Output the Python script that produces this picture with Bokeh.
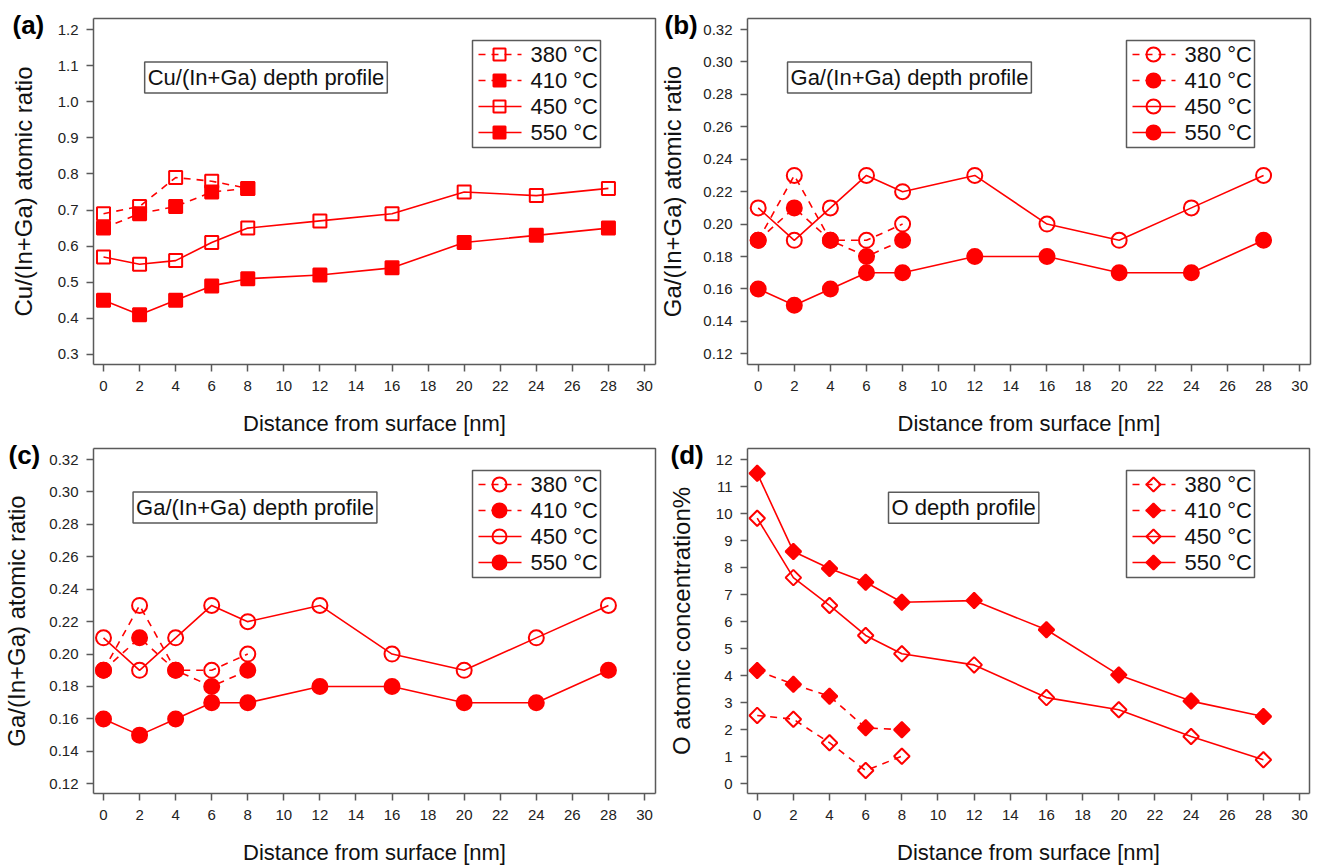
import numpy as np
from bokeh.plotting import figure
from bokeh.layouts import column, row
from bokeh.models import Range1d, FixedTicker, PrintfTickFormatter, Label
from bokeh.core.properties import value
from bokeh.embed import file_html
from bokeh.resources import INLINE

# ---------------- data ----------------
x_short = [0, 2, 4, 6, 8]
x_long = [0, 2, 4, 6, 8, 12, 16, 20, 24, 28]
series_labels = ["380 °C", "410 °C", "450 °C", "550 °C"]

cu_380 = [0.69, 0.71, 0.79, 0.78, 0.76]
cu_410 = [0.65, 0.69, 0.71, 0.75, 0.76]
cu_450 = [0.57, 0.55, 0.56, 0.61, 0.65, 0.67, 0.69, 0.75, 0.74, 0.76]
cu_550 = [0.45, 0.41, 0.45, 0.49, 0.51, 0.52, 0.54, 0.61, 0.63, 0.65]

ga_380 = [0.19, 0.23, 0.19, 0.19, 0.20]
ga_410 = [0.19, 0.21, 0.19, 0.18, 0.19]
ga_450 = [0.21, 0.19, 0.21, 0.23, 0.22, 0.23, 0.20, 0.19, 0.21, 0.23]
ga_550 = [0.16, 0.15, 0.16, 0.17, 0.17, 0.18, 0.18, 0.17, 0.17, 0.19]

o_380 = [2.53, 2.39, 1.52, 0.49, 1.02]
o_410 = [4.19, 3.68, 3.24, 2.07, 2.00]
o_450 = [9.83, 7.63, 6.60, 5.49, 4.81, 4.40, 3.19, 2.74, 1.75, 0.89]
o_550 = [11.49, 8.60, 7.97, 7.46, 6.72, 6.78, 5.70, 4.03, 3.06, 2.49]

x_ticks = [0, 2, 4, 6, 8, 10, 12, 14, 16, 18, 20, 22, 24, 26, 28, 30]
cu_ticks = [0.3, 0.4, 0.5, 0.6, 0.7, 0.8, 0.9, 1.0, 1.1, 1.2]
ga_ticks = [0.12, 0.14, 0.16, 0.18, 0.20, 0.22, 0.24, 0.26, 0.28, 0.30, 0.32]
o_ticks = [0, 1, 2, 3, 4, 5, 6, 7, 8, 9, 10, 11, 12]

x_title = "Distance from surface [nm]"

# ---------------- style ----------------
RED = "#ff0000"
FRAME = "#5a5a5a"
FONT = "Liberation Sans"
FONT_VAL = value(FONT)
DASH = "7 6"


class Panel:
    """One sub-chart. box_px = plot box (left, top, right, bottom) in figure pixels,
    box_data = (x0, x1, y0, y1) data extent of that box."""

    def __init__(self, W, H, box_px, box_data, yticks, yfmt, ylabel, ystand):
        L, T, R, B = box_px
        x0, x1, y0, y1 = box_data
        self.L, self.T = L, T
        self.box_data = box_data
        self.sx = (R - L) / (x1 - x0)
        self.sy = (B - T) / (y1 - y0)
        self.xr0 = x0 - L / self.sx
        self.yr1 = y1 + T / self.sy
        xr1 = self.xr0 + W / self.sx
        yr0 = self.yr1 - H / self.sy
        p = figure(width=W, height=H, x_range=Range1d(self.xr0, xr1), y_range=Range1d(yr0, self.yr1),
                   output_backend="svg", toolbar_location=None,
                   min_border_left=0, min_border_right=0, min_border_top=0, min_border_bottom=0)
        p.xgrid.visible = False
        p.ygrid.visible = False
        p.outline_line_color = None
        for ax in (p.xaxis[0], p.yaxis[0]):
            ax.axis_line_color = FRAME
            ax.axis_line_width = 1.5
            ax.major_tick_line_color = FRAME
            ax.major_tick_line_width = 1.5
            ax.major_tick_out = 7
            ax.major_tick_in = 0
            ax.minor_tick_line_color = None
            ax.major_label_text_font = FONT
            ax.major_label_text_font_size = "15px"
            ax.major_label_text_color = "#222222"
            ax.axis_label_text_font = FONT
            ax.axis_label_text_font_style = "normal"
            ax.axis_label_text_color = "#111111"
        p.xaxis.fixed_location = y0
        p.xaxis.bounds = (x0, x1)
        p.xaxis.ticker = FixedTicker(ticks=x_ticks)
        p.xaxis.axis_label = x_title
        p.xaxis.axis_label_text_font_size = "22px"
        p.xaxis.major_label_standoff = 9
        p.xaxis.axis_label_standoff = 17
        p.yaxis.fixed_location = x0
        p.yaxis.bounds = (y0, y1)
        p.yaxis.ticker = FixedTicker(ticks=yticks)
        p.yaxis.formatter = PrintfTickFormatter(format=yfmt)
        p.yaxis.axis_label = ylabel
        p.yaxis.axis_label_text_font_size = "24px"
        p.yaxis.major_label_standoff = 8
        p.yaxis.axis_label_standoff = ystand
        # top and right edges of the plot box
        p.line([x0, x1, x1], [y1, y1, y0], line_color=FRAME, line_width=1.5)
        self.p = p

    # figure-pixel -> data
    def fx(self, px):
        return self.xr0 + px / self.sx

    def fy(self, py):
        return self.yr1 - py / self.sy

    # box-relative pixel -> data
    def dx(self, px):
        return self.fx(self.L + px)

    def dy(self, py):
        return self.fy(self.T + py)


def add_series(P, marker, size, angle, data):
    p = P.p
    ys380, ys410, ys450, ys550 = data
    specs = [
        (x_short, ys380, DASH, False),
        (x_short, ys410, DASH, True),
        (x_long, ys450, "solid", False),
        (x_long, ys550, "solid", True),
    ]
    for xs, ys, dash, filled in specs:
        p.line(xs, ys, line_color=RED, line_width=1.6, line_dash=dash)
        p.scatter(xs, ys, marker=marker, size=size, angle=angle,
                  line_color=RED, line_width=2,
                  fill_color=RED if filled else None,
                  fill_alpha=1.0 if filled else 0.0)

    # legend box inside the plot box
    p.quad(left=[P.dx(379)], right=[P.dx(507)], top=[P.dy(22)], bottom=[P.dy(129)],
           fill_color="white", line_color=FRAME, line_width=1.5)
    rows_y = [36, 62, 88, 114]
    for (xs, ys, dash, filled), lab, ry in zip(specs, series_labels, rows_y):
        yy = P.dy(ry)
        p.segment(x0=[P.dx(385)], y0=[yy], x1=[P.dx(428)], y1=[yy],
                  line_color=RED, line_width=1.6, line_dash=dash)
        p.scatter(x=[P.dx(406)], y=[yy], marker=marker, size=size - 1, angle=angle,
                  line_color=RED, line_width=2,
                  fill_color=RED if filled else None, fill_alpha=1.0 if filled else 0.0)
        p.text(x=[P.dx(437)], y=[yy], text=[lab], text_font=FONT_VAL, text_font_size="22px",
               text_color="#111111", text_baseline="middle", text_align="left")


def add_box(P, x, y, text):
    P.p.add_layout(Label(x=x, y=y, text=text, text_align="center", text_baseline="middle",
                         text_font=FONT, text_font_size="22px", text_color="#111111",
                         border_line_color=FRAME, border_line_width=1.5,
                         background_fill_color="white", background_fill_alpha=1.0, padding=3))


def add_letter(P, px, py, text):
    P.p.add_layout(Label(x=P.fx(px), y=P.fy(py), text=text, text_align="left", text_baseline="top",
                         text_font=FONT, text_font_size="26px", text_font_style="bold",
                         text_color="#000000"))


# (a)
A = Panel(660, 437, (93, 18, 655, 364), (-0.555, 30.61, 0.2723, 1.2305), cu_ticks, "%.1f",
          "Cu/(In+Ga) atomic ratio", 18)
add_series(A, "square", 13, 0, (cu_380, cu_410, cu_450, cu_550))
add_box(A, 9.01, 1.067, "Cu/(In+Ga) depth profile")
add_letter(A, 12, 9, "(a)")

# (b)
B = Panel(659, 437, (87, 18, 650, 364), (-0.593, 30.60, 0.1134, 0.3268), ga_ticks, "%.2f",
          "Ga/(In+Ga) atomic ratio", 14)
add_series(B, "circle", 15, 0, (ga_380, ga_410, ga_450, ga_550))
add_box(B, 8.38, 0.2904, "Ga/(In+Ga) depth profile")
add_letter(B, 4, 9, "(b)")

# (c)
C = Panel(660, 429, (93, 11, 655, 356), (-0.555, 30.61, 0.114, 0.3268), ga_ticks, "%.2f",
          "Ga/(In+Ga) atomic ratio", 16)
add_series(C, "circle", 15, 0, (ga_380, ga_410, ga_450, ga_550))
add_box(C, 8.40, 0.2904, "Ga/(In+Ga) depth profile")
add_letter(C, 8, 2, "(c)")

# (d)
D = Panel(659, 429, (87, 11, 649, 356), (-0.537, 30.55, -0.36, 12.41), o_ticks, "%d",
          "O atomic concentration%", 18)
add_series(D, "square", 11, np.pi / 4, (o_380, o_410, o_450, o_550))
add_box(D, 11.42, 10.22, "O depth profile")
add_letter(D, 10, 2, "(d)")

layout = column(row(A.p, B.p, spacing=0), row(C.p, D.p, spacing=0), spacing=0)

open("out.html", "w").write(file_html(layout, INLINE))
